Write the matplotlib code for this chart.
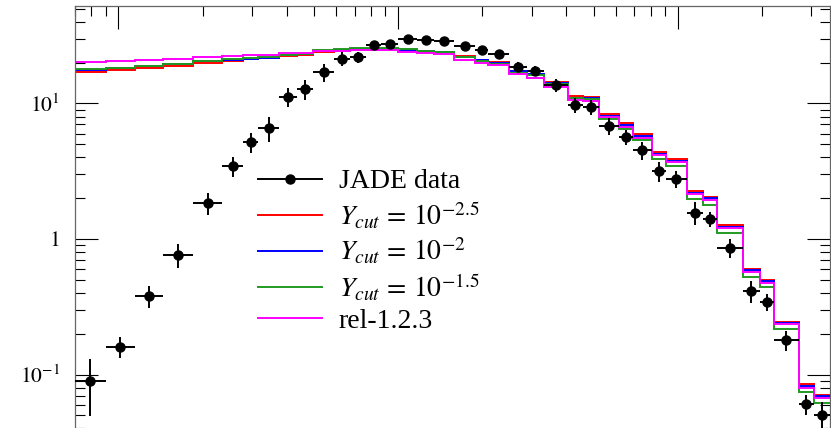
import numpy as np
import matplotlib
matplotlib.use('Agg')
import matplotlib.pyplot as plt
from matplotlib.lines import Line2D
from matplotlib.ticker import LogLocator, FixedLocator, FixedFormatter, NullFormatter

plt.rcParams['font.family'] = ['Liberation Serif', 'DejaVu Serif']
plt.rcParams['mathtext.fontset'] = 'stix'

# bin edges (shared by data and MC), log-spaced-ish y_23 style binning
edges = [7.0e-4, 9.0e-4, 1.15e-3, 1.45e-3, 1.85e-3, 2.35e-3, 2.8e-3, 3.16e-3,
         3.76e-3, 4.36e-3, 4.97e-3, 5.91e-3, 6.74e-3, 7.69e-3, 8.70e-3, 1.0e-2,
         1.17e-2, 1.345e-2, 1.585e-2, 1.885e-2, 2.10e-2, 2.49e-2, 2.89e-2,
         3.32e-2, 4.05e-2, 4.58e-2, 5.22e-2, 6.16e-2, 6.91e-2, 8.08e-2, 9.06e-2,
         0.1077, 0.1228, 0.1378, 0.1707, 0.1963, 0.2203, 0.2704, 0.3059, 0.35]

# JADE data
data_y = [0.0895, 0.160, 0.379, 0.762, 1.84, 3.46, 5.20, 6.59, 11.2, 12.8,
          17.1, 21.3, 22.0, 27.0, 27.5, 29.9, 29.4, 28.9, 26.6, 24.8,
          23.2, 18.6, 17.4, 13.7, 9.75, 9.42, 6.82, 5.66, 4.54, 3.18,
          2.77, 1.56, 1.40, 0.859, 0.413, 0.343, 0.180, 0.0606, 0.0503]
data_err = [0.040, 0.028, 0.07, 0.15, 0.34, 0.60, 0.90, 1.4, 1.8, 2.2,
            2.6, 2.5, 2.0, 1.4, 1.3, 1.1, 1.1, 1.1, 1.0, 1.0,
            1.0, 1.5, 1.5, 1.5, 1.3, 1.2, 1.0, 0.75, 0.7, 0.55,
            0.4, 0.3, 0.18, 0.14, 0.075, 0.05, 0.03, 0.010, 0.012]

# MC predictions
mc_red = [17.17, 17.67, 18.19, 19.01, 19.73, 20.59, 21.13, 21.48, 22.41, 22.80,
          23.99, 24.41, 24.61, 24.61, 24.61, 24.41, 23.99, 23.59, 22.23, 21.05,
          20.24, 17.46, 16.51, 14.29, 11.26, 11.22, 8.37, 7.14, 5.93, 4.36,
          3.89, 2.27, 2.05, 1.27, 0.601, 0.498, 0.245, 0.0847, 0.0706]
mc_blue = [17.76, 18.22, 18.82, 19.40, 20.42, 20.94, 21.30, 21.67, 22.61, 22.99,
           24.41, 24.82, 25.03, 25.03, 25.03, 24.61, 24.20, 23.79, 21.85, 20.77,
           19.73, 17.23, 16.37, 14.05, 11.04, 10.98, 8.13, 6.94, 5.76, 4.24,
           3.78, 2.20, 2.00, 1.23, 0.590, 0.490, 0.241, 0.0827, 0.0694]
mc_green = [17.88, 18.37, 19.01, 19.56, 20.69, 21.20, 21.56, 21.85, 22.80, 23.19,
            24.70, 25.25, 25.55, 25.55, 25.47, 25.03, 24.41, 23.99, 21.85, 20.59,
            19.56, 16.88, 16.09, 13.86, 10.89, 10.80, 7.64, 6.45, 5.38, 3.88,
            3.46, 1.97, 1.78, 1.10, 0.527, 0.445, 0.217, 0.0746, 0.0619]
mc_rel = [20.15, 20.69, 21.05, 21.30, 21.85, 22.30, 22.61, 22.88, 23.47, 23.59,
          24.20, 24.41, 24.61, 24.70, 24.61, 24.12, 23.71, 23.07, 20.94, 20.00,
          19.07, 16.37, 15.50, 13.30, 10.52, 10.49, 7.99, 6.74, 5.59, 4.17,
          3.68, 2.14, 1.94, 1.20, 0.568, 0.476, 0.236, 0.0799, 0.0674]

labels = ['JADE data', r'$Y_{cut}\,=\,10^{-2.5}$', r'$Y_{cut}\,=\,10^{-2}$',
          r'$Y_{cut}\,=\,10^{-1.5}$', 'rel-1.2.3']
colors = ['#ff0000', '#0000ff', '#229922', '#ff00ff']

edges = np.array(edges)
xc = np.sqrt(edges[:-1] * edges[1:])
xerr = [xc - edges[:-1], edges[1:] - xc]

W, H = 831, 428
fig = plt.figure(figsize=(W / 100, H / 100), dpi=100)
ax = fig.add_axes([75 / W, 1 - 460 / H, 755 / W, 454 / H])

for vals, col in zip([mc_red, mc_blue, mc_green, mc_rel], colors):
    ax.stairs(vals, edges, baseline=None, color=col, lw=1.4, zorder=2)

ax.errorbar(xc, data_y, yerr=data_err, xerr=xerr, fmt='o', color='black',
            ms=6.5, elinewidth=1.4, capsize=0, zorder=5)

ax.set_xscale('log'); ax.set_yscale('log')
ax.set_xlim(7.0e-4, 0.35)
ax.set_ylim(0.0234, 52.4)

ax.yaxis.set_major_locator(FixedLocator([0.1, 1, 10]))
ax.yaxis.set_major_formatter(FixedFormatter([r'$10^{-1}$', r'$1$', r'$10^{1}$']))
ax.yaxis.set_minor_locator(LogLocator(base=10, subs=np.arange(2, 10)))
ax.yaxis.set_minor_formatter(NullFormatter())
ax.xaxis.set_major_locator(FixedLocator([1e-3, 1e-2, 1e-1]))
ax.xaxis.set_minor_locator(LogLocator(base=10, subs=np.arange(2, 10)))
ax.xaxis.set_minor_formatter(NullFormatter())

ax.tick_params(which='both', direction='in', top=True, right=True,
               labelbottom=False, width=0.8, color='black')
ax.tick_params(which='major', length=16.5, pad=11, labelsize=15.5)
ax.tick_params(which='minor', length=7.2)
for sp in ax.spines.values():
    sp.set_color('#666666'); sp.set_linewidth(0.9)

handles = [Line2D([], [], color='black', lw=1.4, marker='o', ms=6.5)]
handles += [Line2D([], [], color=c, lw=1.4) for c in colors]
ax.legend(handles, labels, loc='upper left', frameon=False, fontsize=20,
          bbox_to_anchor=(258 / W, 1 - 169 / H), bbox_transform=fig.transFigure,
          borderpad=0, borderaxespad=0, handlelength=2.3, handletextpad=0.6,
          labelspacing=0.19)

fig.savefig('out.png', dpi=100)
